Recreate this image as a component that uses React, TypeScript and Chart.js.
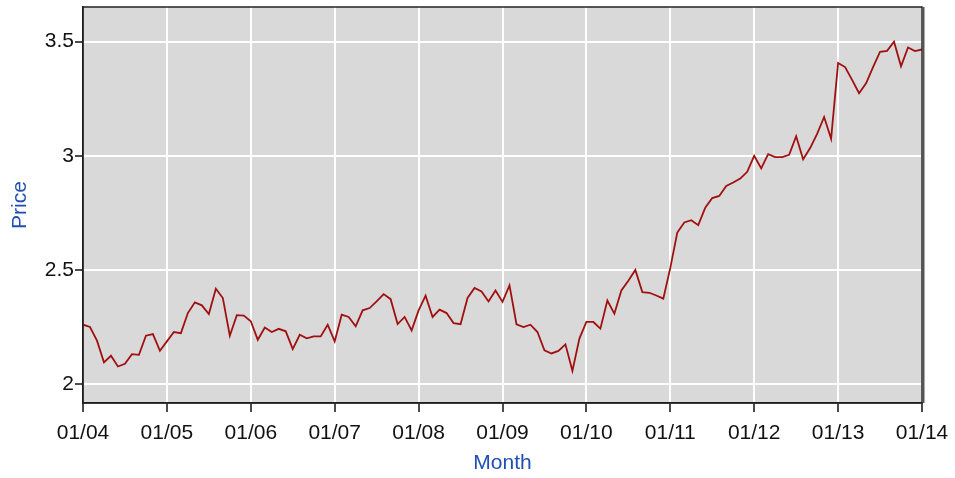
import { useEffect, useRef } from "react"
import { Chart, registerables } from "chart.js"

Chart.register(...registerables)

// monthly price, 01/04 .. 01/14
const prices = [
  2.26, 2.25, 2.19, 2.095, 2.124, 2.077, 2.089, 2.131, 2.128, 2.212, 2.219, 2.146,
  2.187, 2.228, 2.223, 2.311, 2.358, 2.345, 2.307, 2.418, 2.377, 2.212, 2.302, 2.3,
  2.275, 2.194, 2.248, 2.228, 2.242, 2.231, 2.153, 2.216, 2.2, 2.209, 2.209, 2.26,
  2.187, 2.304, 2.294, 2.253, 2.323, 2.333, 2.362, 2.394, 2.372, 2.263, 2.294, 2.235,
  2.323, 2.387, 2.294, 2.326, 2.311, 2.267, 2.262, 2.377, 2.421, 2.406, 2.362, 2.41,
  2.36, 2.432, 2.262, 2.25, 2.26, 2.228, 2.148, 2.134, 2.145, 2.174, 2.058, 2.199,
  2.272, 2.272, 2.243, 2.366, 2.308, 2.41, 2.453, 2.5, 2.403, 2.4, 2.388, 2.374,
  2.509, 2.664, 2.708, 2.718, 2.696, 2.773, 2.815, 2.824, 2.868, 2.883, 2.9, 2.93,
  3.0, 2.945, 3.007, 2.994, 2.994, 3.004, 3.086, 2.985, 3.034, 3.096, 3.17, 3.075,
  3.407, 3.389, 3.333, 3.274, 3.318, 3.389, 3.456, 3.46, 3.5, 3.392, 3.475, 3.459,
  3.466,
]

const tickLabels = ["01/04", "01/05", "01/06", "01/07", "01/08", "01/09", "01/10", "01/11", "01/12", "01/13", "01/14"]
const yTicks = [2, 2.5, 3, 3.5]

const FONT = "'Liberation Sans', Arial, sans-serif"
const TITLE_BLUE = "#1f4fb4"

// gray plot background + dark frame
const plotFrame = {
  id: "plotFrame",
  beforeDraw(chart: Chart) {
    const { ctx, chartArea: a } = chart
    ctx.save()
    ctx.fillStyle = "#d9d9d9"
    ctx.fillRect(a.left, a.top, a.right - a.left, a.bottom - a.top)
    ctx.restore()
  },
  afterDraw(chart: Chart) {
    const { ctx, chartArea: a } = chart
    ctx.save()
    ctx.strokeStyle = "#222"
    ctx.lineWidth = 1.5
    ctx.strokeRect(a.left, a.top, a.right - a.left, a.bottom - a.top)
    ctx.strokeStyle = "#555"
    ctx.lineWidth = 2
    ctx.beginPath()
    ctx.moveTo(a.right + 1.5, a.top)
    ctx.lineTo(a.right + 1.5, a.bottom)
    ctx.stroke()
    ctx.restore()
  },
}

export default function App() {
  const canvasRef = useRef<HTMLCanvasElement>(null)
  const chartRef = useRef<Chart | null>(null)

  useEffect(() => {
    if (!canvasRef.current) return
    if (chartRef.current) chartRef.current.destroy()

    const points = prices.map((p, i) => ({ x: i, y: p }))

    chartRef.current = new Chart(canvasRef.current, {
      type: "line",
      data: {
        datasets: [
          {
            data: points,
            borderColor: "#a01010",
            borderWidth: 1.8,
            pointRadius: 0,
            tension: 0,
            fill: false,
          },
        ],
      },
      options: {
        animation: false,
        responsive: true,
        maintainAspectRatio: false,
        layout: { padding: { left: 0, right: 33, top: 7, bottom: 0 } },
        plugins: {
          legend: { display: false },
          tooltip: { enabled: false },
        },
        scales: {
          x: {
            type: "linear",
            min: 0,
            max: 120,
            afterFit: (s: any) => {
              s.height = 75
              s.paddingLeft = 0
              s.paddingRight = 0
            },
            afterBuildTicks: (s: any) => {
              s.ticks = tickLabels.map((_, i) => ({ value: i * 12 }))
            },
            ticks: {
              color: "#111",
              font: { family: FONT, size: 21 },
              padding: 9,
              maxRotation: 0,
              autoSkip: false,
              callback: (v: any) => tickLabels[Math.round(Number(v) / 12)] ?? "",
            },
            grid: {
              color: "#ffffff",
              lineWidth: 2,
              tickColor: "#111",
              tickLength: 9,
              tickWidth: 1.5,
            },
            border: { display: true, color: "#111", width: 1.5 },
            title: {
              display: true,
              text: "Month",
              color: TITLE_BLUE,
              font: { family: FONT, size: 21, lineHeight: 1.2 },
              padding: { top: 0, bottom: 2 },
            },
          },
          y: {
            min: 1.917,
            max: 3.652,
            afterFit: (s: any) => {
              s.width = 83
              s.paddingTop = 0
              s.paddingBottom = 0
            },
            afterBuildTicks: (s: any) => {
              s.ticks = yTicks.map((v) => ({ value: v }))
            },
            ticks: {
              color: "#111",
              font: { family: FONT, size: 21 },
              padding: 1,
              callback: (v: any) => String(v),
            },
            grid: {
              color: "#ffffff",
              lineWidth: 2,
              tickColor: "#111",
              tickLength: 8,
              tickWidth: 1.5,
            },
            border: { display: true, color: "#111", width: 1.5 },
            title: {
              display: true,
              text: "Price",
              color: TITLE_BLUE,
              font: { family: FONT, size: 21, lineHeight: 1.2 },
              padding: { top: 8, bottom: 0 },
            },
          },
        },
      },
      plugins: [plotFrame],
    })

    return () => {
      if (chartRef.current) {
        chartRef.current.destroy()
        chartRef.current = null
      }
    }
  }, [])

  return (
    <div style={{ position: "fixed", left: 0, top: 0, width: 955, height: 478, background: "#fff" }}>
      <canvas ref={canvasRef} />
    </div>
  )
}
